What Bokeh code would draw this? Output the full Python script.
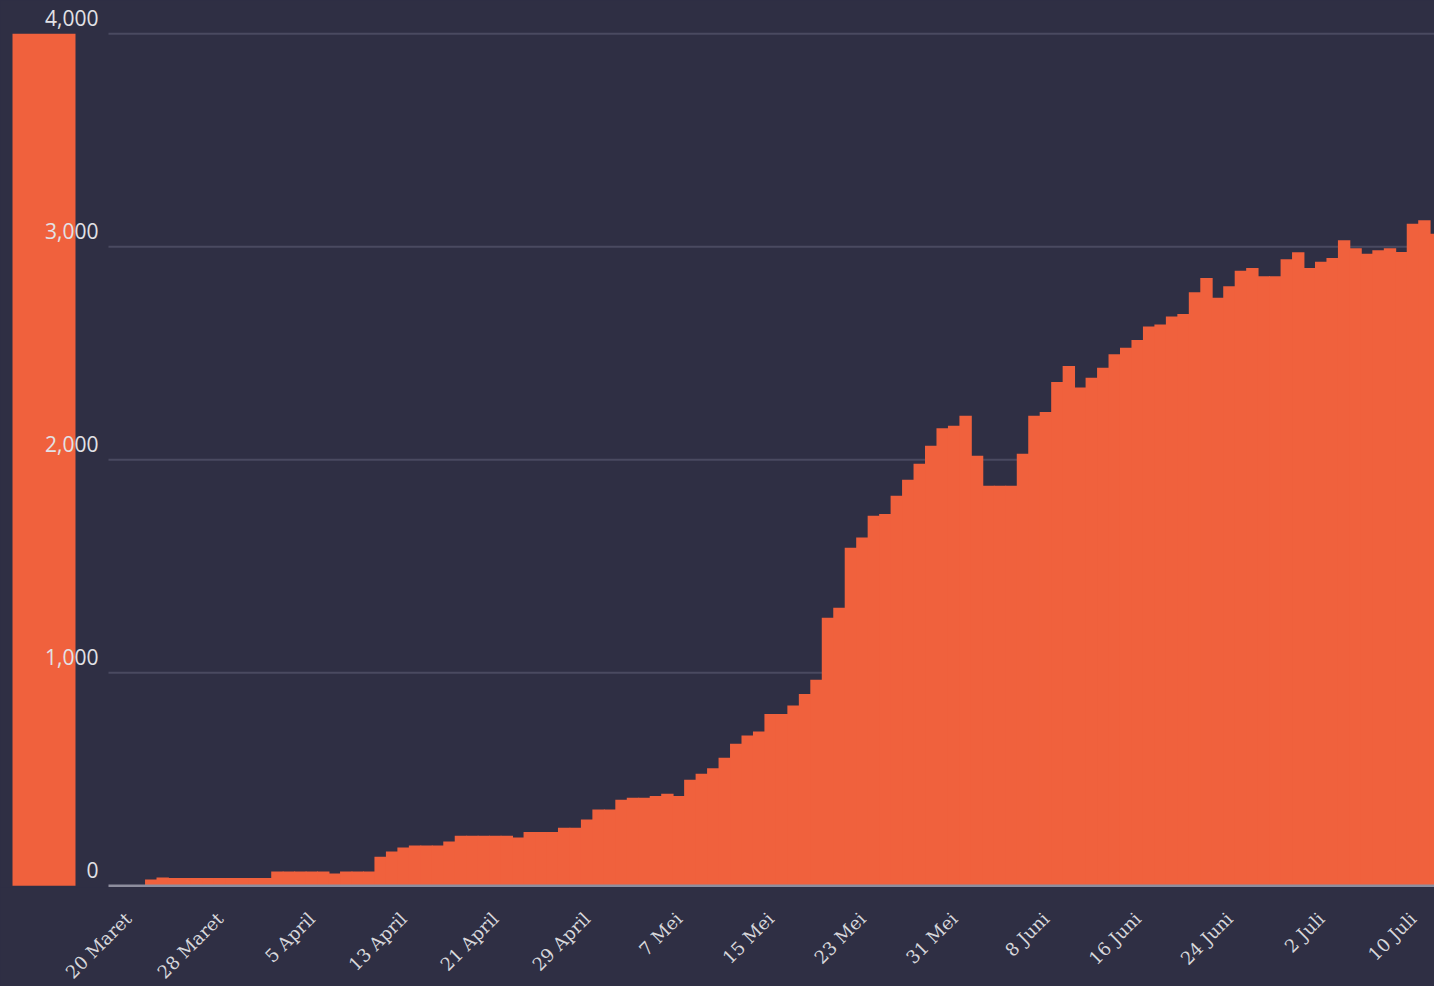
import math
from bokeh.plotting import figure
from bokeh.models import FixedTicker, Range1d, ColumnDataSource
from bokeh.core.properties import value
from bokeh.embed import file_html
from bokeh.resources import INLINE

# ---------------- data ----------------
START_LABEL = "20 Maret"  # day index 0
VALUES = [0, 0, 30, 39,
          37, 37, 37, 37, 37, 37, 37, 37, 37,
          67, 67, 67, 67, 67,
          58,
          67, 67, 67,
          136, 161, 180,
          189, 189, 189,
          208,
          235, 235, 235, 235, 235,
          227,
          253, 253, 253,
          272, 272,
          311,
          358, 358,
          404,
          413, 413,
          422, 432, 422, 498, 526, 552, 601, 667, 706, 724,
          807, 807,
          846, 901, 967, 1258, 1305, 1587, 1635, 1737, 1745, 1831, 1906, 1981,
          2066, 2148, 2160, 2207, 2019,
          1878, 1878, 1878,
          2028, 2207, 2224, 2365, 2440, 2340, 2385, 2432, 2496, 2526, 2563,
          2626, 2635, 2673, 2685, 2787, 2853, 2761, 2815, 2888, 2900,
          2862, 2862,
          2942, 2974, 2901, 2930, 2948, 3031, 2993, 2967, 2984, 2993, 2976,
          3108, 3125, 3061]
DAYS = list(range(len(VALUES)))

TICK_DAYS = [0, 8, 16, 24, 32, 40, 48, 56, 64, 72, 80, 88, 96, 104, 112]
TICK_LABELS = ["20 Maret", "28 Maret", "5 April", "13 April", "21 April",
               "29 April", "7 Mei", "15 Mei", "23 Mei", "31 Mei", "8 Juni",
               "16 Juni", "24 Juni", "2 Juli", "10 Juli"]

Y_TICKS = [0, 1000, 2000, 3000, 4000]
Y_LABELS = ["0", "1,000", "2,000", "3,000", "4,000"]

# ---------------- style / geometry ----------------
BG = "#2f2f44"
BAR = "#f0613d"
GRID = "#4a4a60"
BASE = "#8e8e9e"
TXT = "#e2e2e6"

PX_PER_DAY = 11.47
DAY0_PX = 127.8          # page x of day-0 centre
FRAME_LEFT_PX = 0
FRAME_W = 1434
FRAME_H = 887
Y_PX_PER_UNIT = 852.0 / 4000.0
ZERO_PX = 885.3
TOP_PX = 0

def px_to_day(px):
    return (px - DAY0_PX) / PX_PER_DAY

x_start = px_to_day(FRAME_LEFT_PX)
x_end = x_start + FRAME_W / PX_PER_DAY
y_end = (ZERO_PX - TOP_PX) / Y_PX_PER_UNIT
y_start = -((TOP_PX + FRAME_H) - ZERO_PX) / Y_PX_PER_UNIT

p = figure(frame_width=FRAME_W, frame_height=FRAME_H,
           x_range=Range1d(x_start, x_end), y_range=Range1d(y_start, y_end),
           output_backend="svg", toolbar_location=None,
           y_axis_location=None,
           min_border_left=0, min_border_right=0, min_border_top=0,
           min_border_bottom=0,
           background_fill_color=BG, border_fill_color=BG,
           outline_line_color=None)
p.xgrid.visible = False
p.ygrid.visible = False

# grid lines (start at the plot's left edge)
grid_x0 = px_to_day(108)
p.segment(x0=[grid_x0] * 4, y0=Y_TICKS[1:], x1=[x_end] * 4, y1=Y_TICKS[1:],
          line_color=GRID, line_width=2)

# bars
src = ColumnDataSource(dict(x=DAYS, top=VALUES))
p.vbar(x="x", top="top", width=1.08, source=src,
       fill_color=BAR, line_color=None)

# baseline
p.segment(x0=[grid_x0], y0=[0], x1=[x_end], y1=[0],
          line_color=BASE, line_width=2.5)

# colour block at left spanning the value scale
p.quad(left=[px_to_day(12)], right=[px_to_day(75)], bottom=[Y_TICKS[0]],
       top=[Y_TICKS[-1]], fill_color=BAR, line_color=None)

# y tick labels
p.text(x=[px_to_day(98)] * len(Y_TICKS), y=Y_TICKS, text=Y_LABELS,
       text_align="right", text_baseline="alphabetic", y_offset=-16,
       text_font=value("Open Sans"), text_font_size="21px", text_color=TXT)

# x axis
ax = p.xaxis[0]
ax.ticker = FixedTicker(ticks=TICK_DAYS)
ax.major_label_overrides = {d: l for d, l in zip(TICK_DAYS, TICK_LABELS)}
ax.axis_line_color = None
ax.major_tick_line_color = None
ax.minor_tick_line_color = None
ax.major_label_orientation = math.pi / 4
ax.major_label_text_font = "DejaVu Serif"
ax.major_label_text_font_size = "18px"
ax.major_label_text_color = "#d8d8dc"
ax.major_label_standoff = 22

html = file_html(p, INLINE)
html = html.replace("<head>", "<head><style>html, body {background: #2f2f44;}</style>", 1)
open("out.html", "w").write(html)
